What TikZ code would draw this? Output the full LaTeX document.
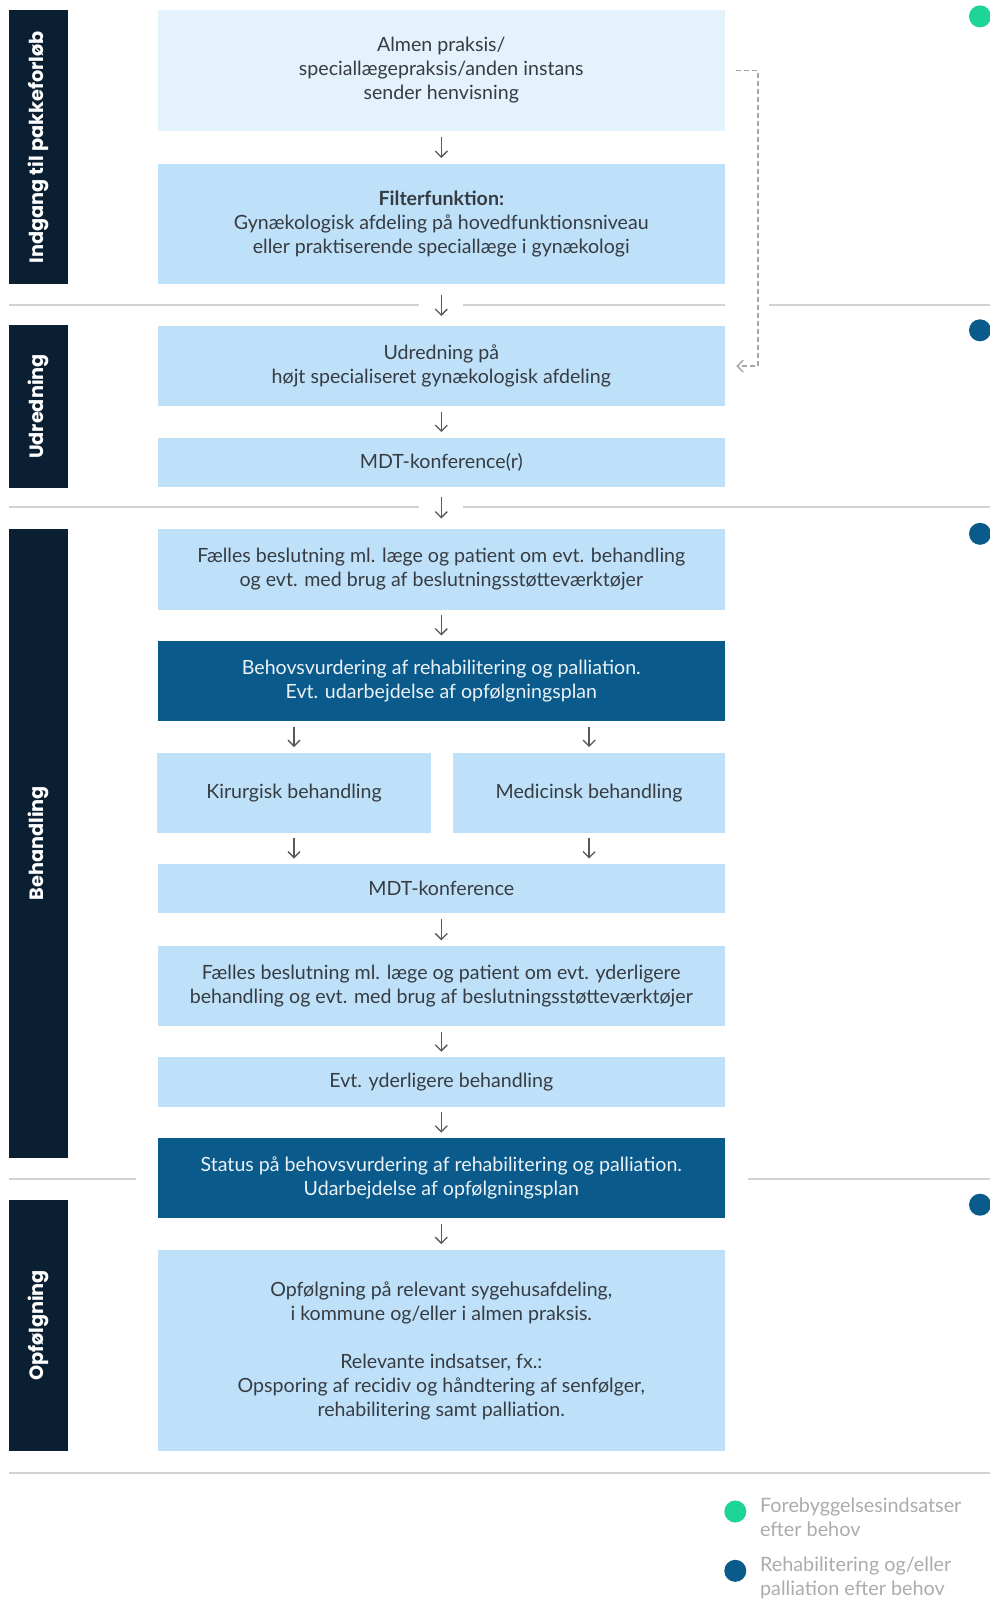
\documentclass[tikz,border=0pt]{standalone}
\usepackage{fontspec}
\setmainfont{Lato}
\newfontfamily\barfont{Poppins}
\usetikzlibrary{arrows.meta}
\definecolor{barnavy}{RGB}{11,31,51}
\definecolor{boxlight}{RGB}{190,225,249}
\definecolor{boxpale}{RGB}{228,242,252}
\definecolor{boxdark}{RGB}{10,90,140}
\definecolor{dotgreen}{RGB}{30,212,150}
\definecolor{rulegray}{RGB}{208,210,212}
\definecolor{txtgray}{RGB}{55,60,66}
\definecolor{leggray}{RGB}{170,172,175}
\tikzset{
  phase/.style={fill=barnavy, minimum height=58.3pt, inner sep=0pt, rotate=90,
    text=white, font=\barfont\fontsize{19.3}{22}\selectfont\bfseries},
  box/.style={fill=boxlight, minimum width=567.6pt, inner sep=0pt, align=center,
    text=txtgray, font=\fontsize{19.6}{24}\selectfont},
  darkbox/.style={box, fill=boxdark, text=white!92!boxdark},
  flow/.style={-{Straight Barb[length=6pt,width=12pt]}, line width=1.3pt, draw=txtgray!85,
    shorten <=5.5pt, shorten >=5.5pt},
  crossflow/.style={flow, shorten <=10pt, shorten >=10pt},
  sepline/.style={draw=rulegray, line width=2pt},
  dot/.style={circle, inner sep=0pt, minimum size=22pt},
  legtext/.style={align=left, inner sep=0pt, text=leggray, font=\fontsize{19.8}{24}\selectfont}
}
\begin{document}
\begin{tikzpicture}[x=1pt,y=-1pt]
    \clip (0,0) rectangle (990,1603);
    \fill[white] (0,0) rectangle (990,1603);
    \node[phase, minimum width=274.1pt] (bar1) at (38.4,147.3) {Indgang til pakkeforløb};
    \node[phase, minimum width=162.6pt] (bar2) at (38.4,406.5) {Udredning};
    \node[phase, minimum width=629pt] (bar3) at (38.4,843.2) {Behandling};
    \node[phase, minimum width=251.6pt] (bar4) at (38.4,1325.4) {Opfølgning};
    \draw[sepline] (9,304.8) -- (419.3,304.8);
    \draw[sepline] (463.3,304.8) -- (725,304.8);
    \draw[sepline] (769,304.8) -- (990,304.8);
    \draw[sepline] (9,507.3) -- (419.3,507.3);
    \draw[sepline] (463.3,507.3) -- (990,507.3);
    \draw[sepline] (9,1179.2) -- (136,1179.2);
    \draw[sepline] (747.6,1179.2) -- (990,1179.2);
    \draw[sepline] (9,1472.7) -- (990,1472.7);
    \node[box, fill=boxpale, minimum height=120.7pt] (almen) at (441.3,70.5)
      {Almen praksis/\\ speciallægepraksis/anden instans\\ sender henvisning};
    \node[box, minimum height=120.7pt] (filter) at (441.3,224)
      {\textbf{Filterfunktion:}\\ Gynækologisk afdeling på hovedfunktionsniveau\\ eller praktiserende speciallæge i gynækologi};
    \node[box, minimum height=79.8pt] (udred) at (441.3,366.1)
      {Udredning på\\ højt specialiseret gynækologisk afdeling};
    \node[box, minimum height=49.1pt] (mdta) at (441.3,462.3) {MDT-konference(r)};
    \node[box, minimum height=80.8pt] (faelles) at (441.3,569.1)
      {Fælles beslutning ml. læge og patient om evt. behandling\\ og evt. med brug af beslutningsstøtteværktøjer};
    \node[darkbox, minimum height=79.8pt] (behov) at (441.3,681.1)
      {Behovsvurdering af rehabilitering og palliation.\\ Evt. udarbejdelse af opfølgningsplan};
    \node[box, minimum width=273.1pt, minimum height=79.8pt] (kir) at (294,792.6) {Kirurgisk behandling};
    \node[box, minimum width=272pt, minimum height=79.8pt] (med) at (589.1,792.6) {Medicinsk behandling};
    \node[box, minimum height=49.1pt] (mdtb) at (441.3,888.8) {MDT-konference};
    \node[box, minimum height=79.8pt] (faellesb) at (441.3,985.9)
      {Fælles beslutning ml. læge og patient om evt. yderligere\\ behandling og evt. med brug af beslutningsstøtteværktøjer};
    \node[box, minimum height=49.1pt] (yderl) at (441.3,1082) {Evt. yderligere behandling};
    \node[darkbox, minimum height=79.7pt] (status) at (441.3,1178.2)
      {Status på behovsvurdering af rehabilitering og palliation.\\ Udarbejdelse af opfølgningsplan};
    \node[box, minimum height=201.5pt] (opf) at (441.3,1350.5)
      {Opfølgning på relevant sygehusafdeling,\\ i kommune og/eller i almen praksis.\\[24pt]
       Relevante indsatser, fx.:\\ Opsporing af recidiv og håndtering af senfølger,\\ rehabilitering samt palliation.};
    \draw[flow] (almen) -- (filter);
    \draw[crossflow] (filter) -- (udred);
    \draw[flow] (udred) -- (mdta);
    \draw[crossflow] (mdta) -- (faelles);
    \draw[flow] (faelles) -- (behov);
    \draw[flow] (behov.south -| kir.north) -- (kir.north);
    \draw[flow] (behov.south -| med.north) -- (med.north);
    \draw[flow] (kir.south) -- (kir.south |- mdtb.north);
    \draw[flow] (med.south) -- (med.south |- mdtb.north);
    \draw[flow] (mdtb) -- (faellesb);
    \draw[flow] (faellesb) -- (yderl);
    \draw[flow] (yderl) -- (status);
    \draw[flow] (status) -- (opf);
    \draw[-{Straight Barb[length=6pt,width=12pt]}, dash pattern=on 5pt off 3pt, line width=1.3pt,
      draw=gray!70, shorten <=11pt, shorten >=11pt] (almen.east) -- ++(32.7,0) |- (udred.east);
    \node[dot, fill=dotgreen] (dot1) at (980,16.4) {};
    \node[dot, fill=boxdark] (dot2) at (980,330.3) {};
    \node[dot, fill=boxdark] (dot3) at (980,533.8) {};
    \node[dot, fill=boxdark] (dot4) at (980,1204.7) {};
    \node[dot, fill=dotgreen] (legdot1) at (735.3,1511.5) {};
    \node[legtext, anchor=north west] (leg1) at (759.9,1498) {Forebyggelsesindsatser\\ efter behov};
    \node[dot, fill=boxdark] (legdot2) at (735.3,1570.8) {};
    \node[legtext, anchor=north west] (leg2) at (759.9,1557) {Rehabilitering og/eller\\ palliation efter behov};
\end{tikzpicture}
\end{document}
